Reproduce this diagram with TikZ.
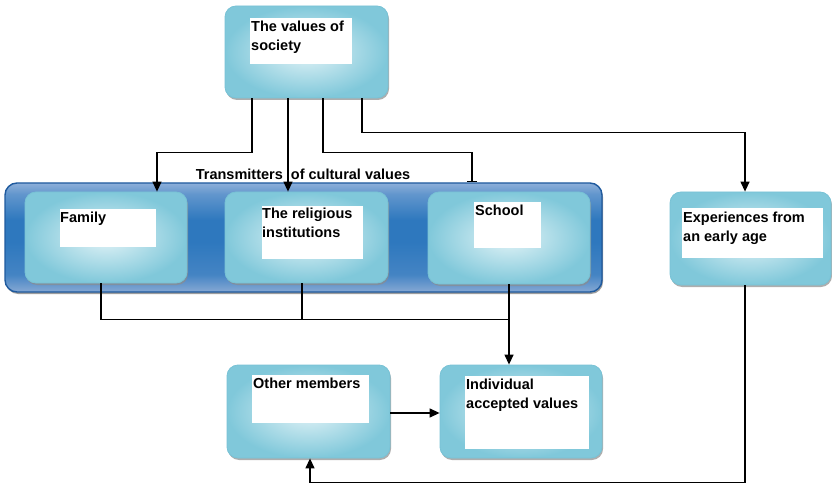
\documentclass[tikz,border=0pt]{standalone}
\usepackage{fontspec}
\setmainfont{Liberation Sans}
\usetikzlibrary{arrows.meta,shadows}
\definecolor{boxlight}{HTML}{E2F3F7}
\definecolor{boxdark}{HTML}{80C8DA}
\definecolor{boxedge}{HTML}{78C2D5}
\definecolor{contedge}{HTML}{1F5A9E}
\definecolor{conttop}{HTML}{8DAFD9}
\definecolor{contbot}{HTML}{86A8D4}
\definecolor{contmid}{HTML}{2E78BE}
\pgfdeclareverticalshading{contshade}{100bp}{%
  color(0bp)=(contbot); color(25bp)=(contbot); color(33bp)=(contmid!75!contbot);
  color(48bp)=(contmid); color(58bp)=(contmid); color(70bp)=(contmid!45!conttop);
  color(75bp)=(conttop); color(100bp)=(conttop)}
\begin{document}
\begin{tikzpicture}[x=1pt,y=-1pt,
  font=\fontsize{14.5}{18.5}\selectfont\bfseries,
  cbox/.style={draw=boxedge, line width=0.8pt, rounded corners=11pt,
    inner color=boxlight, outer color=boxdark,
    drop shadow={shadow xshift=1pt,shadow yshift=-2pt,fill=black!45,opacity=.7},
    inner sep=0pt},
  contbox/.style={draw=contedge, line width=1.4pt, rounded corners=12pt,
    shading=contshade,
    drop shadow={shadow xshift=1pt,shadow yshift=-2pt,fill=black!55,opacity=.7},
    inner sep=0pt},
  wrect/.style={fill=white, inner sep=0pt, anchor=north west},
  lbl/.style={inner sep=0pt, anchor=north west, align=left},
  conn/.style={draw=black, line width=1.3pt},
  arr/.style={conn, -{Triangle[length=10pt,width=9pt]}},
  barend/.style={conn, -{Bar[width=10pt]}}]
\useasboundingbox (0,0) rectangle (832,486);

% top box
\node[cbox, minimum width=163pt, minimum height=92pt] (vs) at (306.5,52) {};
\node[wrect, minimum width=102pt, minimum height=46pt] (vsw) at (250,18) {};
\node[lbl] (vst) at (251,21) {The values of\\society};

% container
\node[contbox, minimum width=597pt, minimum height=109pt] (cont) at (303.5,237.5) {};

% inner boxes
\node[cbox, minimum width=162pt, minimum height=91pt] (fam) at (106,237.5) {};
\node[wrect, minimum width=96pt, minimum height=38pt] (famw) at (60,209) {};
\node[lbl] (famt) at (60,212) {Family};

\node[cbox, minimum width=163pt, minimum height=91pt] (rel) at (306.5,237.5) {};
\node[wrect, minimum width=101pt, minimum height=53pt] (relw) at (262,206) {};
\node[lbl] (relt) at (262,208) {The religious\\institutions};

\node[cbox, minimum width=162pt, minimum height=92pt] (sch) at (509,238) {};
\node[wrect, minimum width=67pt, minimum height=46pt] (schw) at (474,202) {};
\node[lbl] (scht) at (475,205) {School};

% right box
\node[cbox, minimum width=161pt, minimum height=93pt] (exp) at (750.5,238.5) {};
\node[wrect, minimum width=141pt, minimum height=50pt] (expw) at (682,208) {};
\node[lbl] (expt) at (683,212) {Experiences from\\an early age};

% bottom boxes
\node[cbox, minimum width=163pt, minimum height=93pt] (oth) at (308.5,411.5) {};
\node[wrect, minimum width=117pt, minimum height=48pt] (othw) at (252,375) {};
\node[lbl] (otht) at (253,378) {Other members};

\node[cbox, minimum width=162pt, minimum height=93pt] (ind) at (521,411.5) {};
\node[wrect, minimum width=124pt, minimum height=73pt] (indw) at (465,376) {};
\node[lbl] (indt) at (466,379) {Individual\\accepted values};

% label
\node[inner sep=0pt] (tl) at (303,174) {Transmitters\ \ of cultural values};

% connectors from top
\draw[arr] ([xshift=-54.5pt]vs.south) -- ++(0,54) -| ([xshift=51pt]fam.north);
\draw[arr] ([xshift=-18.5pt]vs.south) -- ([xshift=-18.5pt]rel.north);
\draw[barend] ([xshift=16.5pt]vs.south) -- ++(0,54) -| ([xshift=168.5pt]cont.north);
\draw[arr] ([xshift=55.5pt]vs.south) -- ++(0,34) -| ([xshift=-5.5pt]exp.north);

% merging lines
\coordinate (jn) at ([yshift=-35pt]sch.south);
\draw[conn] (fam.south) ++(-5,0) -- ++(0,36) -- (jn);
\draw[conn] (rel.south) ++(-4.5,0) -- ++(0,36);
\draw[arr] (sch.south) -- (sch.south |- ind.north);

% other -> individual
\draw[arr] ([yshift=-1.5pt]oth.east) -- ([yshift=-1.5pt]ind.west);

% experiences -> other
\draw[arr] (exp.south) ++(-5.5,0) -- ++(0,197) -| ([xshift=1.5pt]oth.south);
\end{tikzpicture}
\end{document}
